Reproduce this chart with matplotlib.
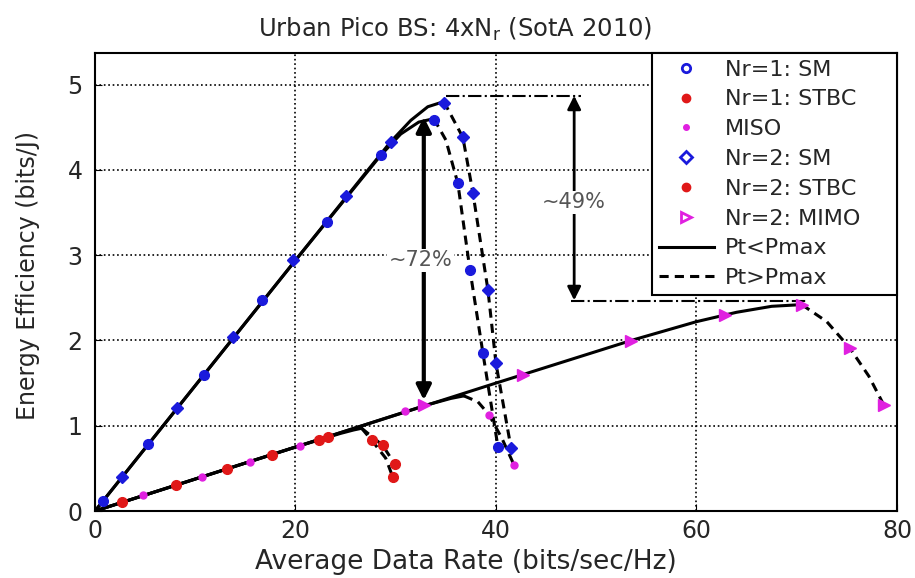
import matplotlib
matplotlib.use("Agg")
import matplotlib.pyplot as plt
from matplotlib.lines import Line2D

# ---------------- data ----------------
# Nr=1 SM (blue circles)
sm1_line_x = [0, 10, 20, 28.5, 30.5, 32.3, 33.8]
sm1_line_y = [0, 1.47, 2.94, 4.17, 4.42, 4.56, 4.60]
sm1_dash_x = [33.8, 35.0, 36.2, 37.4, 38.7, 40.2]
sm1_dash_y = [4.60, 4.35, 3.84, 2.83, 1.85, 0.75]
sm1_mk_x = [0.8, 5.3, 10.9, 16.7, 23.1, 28.5, 33.8, 36.2, 37.4, 38.7, 40.2]
sm1_mk_y = [0.12, 0.78, 1.60, 2.47, 3.39, 4.17, 4.59, 3.84, 2.83, 1.85, 0.75]

# Nr=2 SM (blue diamonds)
sm2_line_x = [0, 10, 20, 29.5, 31.5, 33.2, 34.8]
sm2_line_y = [0, 1.47, 2.94, 4.33, 4.58, 4.74, 4.80]
sm2_dash_x = [34.8, 36.7, 37.7, 39.2, 40.0, 41.5]
sm2_dash_y = [4.80, 4.38, 3.73, 2.59, 1.73, 0.74]
sm2_mk_x = [2.7, 8.2, 13.8, 19.8, 25.0, 29.5, 34.8, 36.7, 37.7, 39.2, 40.0, 41.5]
sm2_mk_y = [0.40, 1.21, 2.04, 2.94, 3.69, 4.33, 4.78, 4.38, 3.73, 2.59, 1.73, 0.74]

# STBC (red)
stbc_line_x = [0, 10, 20, 24.5, 25.8, 26.6]
stbc_line_y = [0, 0.375, 0.75, 0.91, 0.95, 0.97]
stbc1_dash_x = [26.6, 27.6, 29.0, 29.7]
stbc1_dash_y = [0.97, 0.83, 0.62, 0.40]
stbc2_dash_x = [26.6, 28.7, 29.9]
stbc2_dash_y = [0.97, 0.77, 0.55]
stbc1_mk_x = [2.7, 13.2, 22.3, 27.6, 29.7]
stbc1_mk_y = [0.10, 0.49, 0.83, 0.83, 0.40]
stbc2_mk_x = [8.1, 17.7, 23.2, 28.7, 29.9]
stbc2_mk_y = [0.31, 0.66, 0.87, 0.77, 0.55]

# MISO (magenta dots)
miso_line_x = [0, 20, 33, 35.5, 36.8]
miso_line_y = [0, 0.75, 1.24, 1.32, 1.35]
miso_dash_x = [36.8, 38.2, 39.3, 40.6, 41.8]
miso_dash_y = [1.35, 1.28, 1.13, 0.85, 0.54]
miso_mk_x = [4.8, 10.7, 15.5, 20.5, 30.9, 39.3, 41.8]
miso_mk_y = [0.19, 0.40, 0.58, 0.76, 1.17, 1.13, 0.54]

# Nr=2 MIMO (magenta triangles)
mimo_line_x = [0, 20, 40, 53.5, 60, 64, 67.5, 70.5]
mimo_line_y = [0, 0.75, 1.5, 2.0, 2.22, 2.33, 2.40, 2.42]
mimo_dash_x = [70.5, 73, 75.3, 77.2, 78.7]
mimo_dash_y = [2.42, 2.22, 1.91, 1.58, 1.24]
mimo_mk_x = [32.8, 42.7, 53.5, 62.8, 70.5, 75.3, 78.7]
mimo_mk_y = [1.24, 1.60, 1.99, 2.30, 2.42, 1.91, 1.24]

# annotations
arrow72_x = 32.8
arrow72_y = [4.62, 1.30]
arrow49_x = 47.8
arrow49_y = [4.87, 2.47]
ref_top_x = [35.0, 48.5]
ref_top_y = 4.87
ref_bot_x = [47.5, 71.0]
ref_bot_y = 2.46

xticks = [0, 20, 40, 60, 80]
yticks = [0, 1, 2, 3, 4, 5]

legend_labels = ["Nr=1: SM", "Nr=1: STBC", "MISO", "Nr=2: SM",
                 "Nr=2: STBC", "Nr=2: MIMO", "Pt<Pmax", "Pt>Pmax"]

# ---------------- plot ----------------
plt.rcParams['font.family'] = ['DejaVu Sans']
fig = plt.figure(figsize=(9.15, 5.78), dpi=100)
ax = fig.add_axes([0.1038, 0.1159, 0.8765, 0.7924])

BLUE = '#1a1adc'
RED = '#e01818'
MAG = '#e020e0'
TXT = '#262626'
lw = 2.2
dash = (0, (3, 2))

ax.plot(sm1_line_x, sm1_line_y, color='k', lw=lw, zorder=3)
ax.plot(sm2_line_x, sm2_line_y, color='k', lw=lw, zorder=3)
ax.plot(sm1_dash_x, sm1_dash_y, color='k', lw=lw, ls=dash, zorder=3)
ax.plot(sm2_dash_x, sm2_dash_y, color='k', lw=lw, ls=dash, zorder=3)
ax.plot(stbc_line_x, stbc_line_y, color='k', lw=lw, zorder=3)
ax.plot(stbc1_dash_x, stbc1_dash_y, color='k', lw=lw, ls=dash, zorder=3)
ax.plot(stbc2_dash_x, stbc2_dash_y, color='k', lw=lw, ls=dash, zorder=3)
ax.plot(miso_line_x, miso_line_y, color='k', lw=lw, zorder=3)
ax.plot(miso_dash_x, miso_dash_y, color='k', lw=lw, ls=dash, zorder=3)
ax.plot(mimo_line_x, mimo_line_y, color='k', lw=lw, zorder=3)
ax.plot(mimo_dash_x, mimo_dash_y, color='k', lw=lw, ls=dash, zorder=3)

ax.plot(sm1_mk_x, sm1_mk_y, 'o', ms=7, color=BLUE, mec=BLUE, zorder=4)
ax.plot(sm2_mk_x, sm2_mk_y, 'D', ms=6.5, color=BLUE, mec=BLUE, zorder=4)
ax.plot(stbc1_mk_x, stbc1_mk_y, 'o', ms=7, color=RED, mec=RED, zorder=4)
ax.plot(stbc2_mk_x, stbc2_mk_y, 'o', ms=7, color=RED, mec=RED, zorder=4)
ax.plot(miso_mk_x, miso_mk_y, '.', ms=10, color=MAG, zorder=4)
ax.plot(mimo_mk_x, mimo_mk_y, '>', ms=8, color=MAG, mec=MAG, zorder=4)

# reference dash-dot lines
ax.plot(ref_top_x, [ref_top_y, ref_top_y], color='k', lw=1.5, ls='-.', zorder=2)
ax.plot(ref_bot_x, [ref_bot_y, ref_bot_y], color='k', lw=1.5, ls='-.', zorder=2)

# arrows
ax.annotate('', xy=(arrow72_x, arrow72_y[0]), xytext=(arrow72_x, arrow72_y[1]),
            arrowprops=dict(arrowstyle='<|-|>', color='k', lw=3.0,
                            mutation_scale=22, shrinkA=0, shrinkB=0), zorder=5)
ax.text(arrow72_x - 0.3, 2.94, '~72%', ha='center', va='center', fontsize=15,
        color='#555555', zorder=6,
        bbox=dict(facecolor='white', edgecolor='none', pad=1))
ax.annotate('', xy=(arrow49_x, arrow49_y[0]), xytext=(arrow49_x, arrow49_y[1]),
            arrowprops=dict(arrowstyle='<|-|>', color='k', lw=2.0,
                            mutation_scale=20, shrinkA=0, shrinkB=0), zorder=5)
ax.text(arrow49_x, 3.62, '~49%', ha='center', va='center', fontsize=15,
        color='#555555', zorder=6,
        bbox=dict(facecolor='white', edgecolor='none', pad=1))

ax.set_xlim(0, 80)
ax.set_ylim(0, 5.37)
ax.set_xticks(xticks)
ax.set_yticks(yticks)
ax.tick_params(labelsize=17, direction='in', length=5, colors='k',
               labelcolor=TXT)
ax.tick_params(axis='y', pad=9)
ax.tick_params(axis='x', pad=6)
ax.grid(True, color='k', ls=':', lw=1.2)
for s in ax.spines.values():
    s.set_linewidth(1.5)

ax.set_title('Urban Pico BS: 4xN$_\\mathregular{r}$ (SotA 2010)', fontsize=17.5,
             color=TXT, x=0.449, pad=12)
ax.set_xlabel('Average Data Rate (bits/sec/Hz)', fontsize=19, color=TXT)
ax.xaxis.set_label_coords(0.4626, -0.082)
ax.set_ylabel('Energy Efficiency (bits/J)', fontsize=17, color=TXT)
ax.yaxis.set_label_coords(-0.068, 0.515)

handles = [
    Line2D([], [], ls='none', marker='o', ms=6, mfc='white', mec=BLUE, mew=2),
    Line2D([], [], ls='none', marker='o', ms=6, mfc=RED, mec=RED),
    Line2D([], [], ls='none', marker='.', ms=8, color=MAG),
    Line2D([], [], ls='none', marker='D', ms=6, mfc='white', mec=BLUE, mew=2),
    Line2D([], [], ls='none', marker='o', ms=6, mfc=RED, mec=RED),
    Line2D([], [], ls='none', marker='>', ms=7, mfc='white', mec=MAG, mew=2),
    Line2D([], [], color='k', lw=2.2),
    Line2D([], [], color='k', lw=2.2, ls=(0, (3, 2))),
]
leg = ax.legend(handles, legend_labels, loc='upper right', fontsize=16,
                bbox_to_anchor=(0.6945, 0.0, 0.3055, 1.0), mode='expand',
                frameon=True, fancybox=False, edgecolor='k', framealpha=1,
                borderaxespad=0, handlelength=2.5, labelspacing=0.44,
                borderpad=0.3, handletextpad=0.5)
leg.get_frame().set_linewidth(1.5)
for t in leg.get_texts():
    t.set_color(TXT)
leg.set_zorder(10)

fig.savefig('out.png', dpi=100)
